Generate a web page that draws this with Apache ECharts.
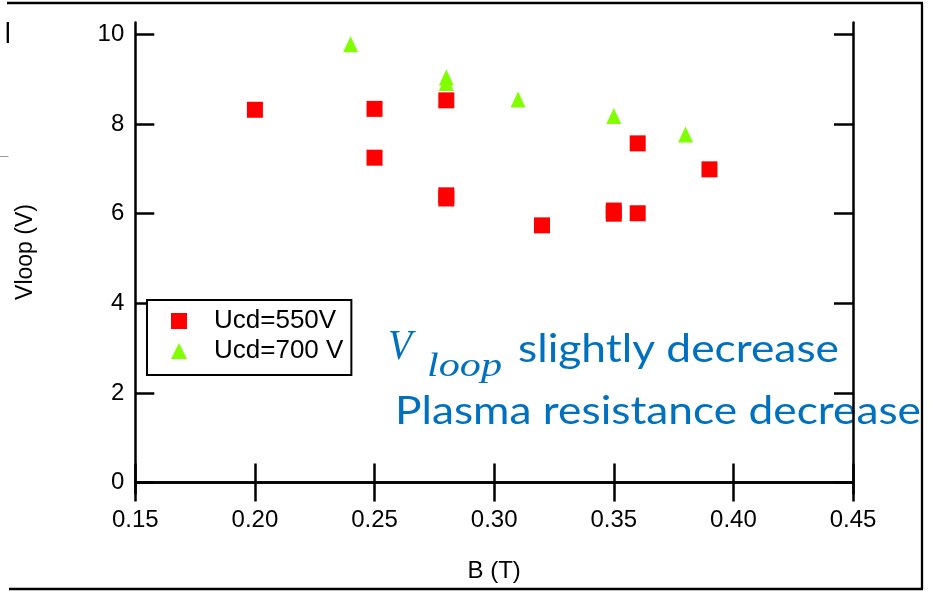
<!DOCTYPE html>
<html><head><meta charset="utf-8">
<script src="https://cdn.jsdelivr.net/npm/echarts@6/dist/echarts.min.js"></script>
<style>html,body{margin:0;padding:0;background:#fff}#c{width:932px;height:591px}</style>
</head><body><div id="c"></div>
<script>
// ---- data ----
const xTicks = [0.15, 0.20, 0.25, 0.30, 0.35, 0.40, 0.45];
const yTicks = [0, 2, 4, 6, 8, 10];
const seriesNames = ['Ucd=550V', 'Ucd=700 V'];
const b550 = [0.20, 0.25, 0.25, 0.28, 0.28, 0.28, 0.32, 0.35, 0.35, 0.36, 0.36, 0.39];
const v550 = [8.32, 8.34, 7.25, 8.53, 6.41, 6.34, 5.74, 6.07, 6.00, 7.57, 6.01, 6.99];
const b700 = [0.24, 0.28, 0.28, 0.31, 0.35, 0.38];
const v700 = [9.78, 9.04, 8.92, 8.55, 8.18, 7.77];
const xName = 'B (T)';
const yName = 'Vloop (V)';
const noteV = 'V';
const noteSub = 'loop';
const note1 = 'slightly decrease';
const note2 = 'Plasma resistance decrease';

// ---- helpers ----
const mctx = document.createElement('canvas').getContext('2d');
function fitScale(text, font, target) { mctx.font = font; return target / mctx.measureText(text).width; }
const zip = (a, b) => a.map((v, i) => [v, b[i]]);

const BLUE = '#0070C0';
const AX = { lineStyle: { color: '#000', width: 2.5 } };
const FONT = '"Liberation Sans", Arial, sans-serif';

const fNote = '38px Lato';
const fV = 'italic 42px "Liberation Serif"';
const fSub = 'italic 33px "Liberation Serif"';

const chart = echarts.init(document.getElementById('c'), null, { renderer: 'canvas' });
chart.setOption({
  animation: false,
  backgroundColor: '#fff',
  grid: { left: 135.3, top: 22.5, width: 717.7, height: 471, containLabel: false },
  xAxis: [
    {
      type: 'value', position: 'bottom', min: 0.15, max: 0.45,
      axisLine: AX,
      axisTick: { inside: true, length: 19, lineStyle: { color: '#000', width: 2.5 }, customValues: xTicks },
      axisLabel: { customValues: xTicks, formatter: v => v.toFixed(2), fontSize: 24, color: '#000', fontFamily: FONT, margin: 15 },
      splitLine: { show: false },
      name: xName, nameLocation: 'middle', nameGap: 66,
      nameTextStyle: { fontSize: 24, color: '#000', fontFamily: FONT }
    },
    {
      type: 'value', position: 'top', min: 0.15, max: 0.45,
      axisLine: AX,
      axisTick: { inside: true, length: 19, lineStyle: { color: '#000', width: 2.5 }, customValues: xTicks },
      axisLabel: { show: false }, splitLine: { show: false }
    }
  ],
  yAxis: [
    {
      type: 'value', position: 'left', min: -0.2455, max: 10.268,
      axisLine: AX,
      axisTick: { inside: true, length: 19, lineStyle: { color: '#000', width: 2.5 }, customValues: yTicks },
      axisLabel: { customValues: yTicks, fontSize: 24, color: '#000', fontFamily: FONT, margin: 11 },
      splitLine: { show: false },
      name: yName, nameLocation: 'middle', nameGap: 98, nameRotate: 90,
      nameTextStyle: { fontSize: 23, color: '#000', fontFamily: FONT, padding: [0, 0, 0, 12] }
    },
    {
      type: 'value', position: 'right', min: -0.2455, max: 10.268,
      axisLine: AX,
      axisTick: { inside: true, length: 19, lineStyle: { color: '#000', width: 2.5 }, customValues: yTicks },
      axisLabel: { show: false }, splitLine: { show: false }
    }
  ],
  legend: {
    orient: 'vertical', left: 147, top: 300,
    padding: [8, 8, 11, 24], itemGap: 4, itemWidth: 16, itemHeight: 16,
    borderColor: '#000', borderWidth: 2, backgroundColor: '#fff',
    textStyle: { fontSize: 26, color: '#000', fontFamily: FONT, padding: [0, 0, 0, 22] },
    data: seriesNames
  },
  series: [
    { name: seriesNames[0], type: 'scatter', symbol: 'rect', symbolSize: 16,
      itemStyle: { color: '#FF0000', opacity: 1 }, data: zip(b550, v550), z: 3 },
    { name: seriesNames[1], type: 'scatter', symbol: 'triangle', symbolSize: [15, 16],
      itemStyle: { color: '#80FF00', opacity: 1 }, data: zip(b700, v700), z: 4 }
  ],
  graphic: [
    // annotation text (under axes)
    { type: 'text', z: -1, x: 388, y: 348, scaleX: fitScale(noteV, fV, 24),
      style: { text: noteV, font: fV, fill: BLUE, verticalAlign: 'middle' } },
    { type: 'text', z: -1, x: 427, y: 367, scaleX: fitScale(noteSub, fSub, 75),
      style: { text: noteSub, font: fSub, fill: BLUE, verticalAlign: 'middle' } },
    { type: 'text', z: -1, x: 518, y: 350, scaleX: fitScale(note1, fNote, 321),
      style: { text: note1, font: fNote, fill: BLUE, verticalAlign: 'middle' } },
    { type: 'text', z: -1, x: 395, y: 412, scaleX: fitScale(note2, fNote, 526),
      style: { text: note2, font: fNote, fill: BLUE, verticalAlign: 'middle' } },
    // outer slide frame
    { type: 'line', z: 100, shape: { x1: 7, y1: 3, x2: 923, y2: 3 }, style: { stroke: '#000', lineWidth: 2.3 } },
    { type: 'line', z: 100, shape: { x1: 922, y1: 3, x2: 922, y2: 589 }, style: { stroke: '#000', lineWidth: 2.3 } },
    { type: 'line', z: 100, shape: { x1: 9, y1: 589, x2: 923, y2: 589 }, style: { stroke: '#000', lineWidth: 2.3 } },
    { type: 'line', z: 100, shape: { x1: 7.8, y1: 22, x2: 7.8, y2: 43 }, style: { stroke: '#000', lineWidth: 2.3 } },
    { type: 'line', z: 100, shape: { x1: 0, y1: 156.5, x2: 8.5, y2: 156.5 }, style: { stroke: '#999', lineWidth: 1 } }
  ]
});
</script></body></html>
